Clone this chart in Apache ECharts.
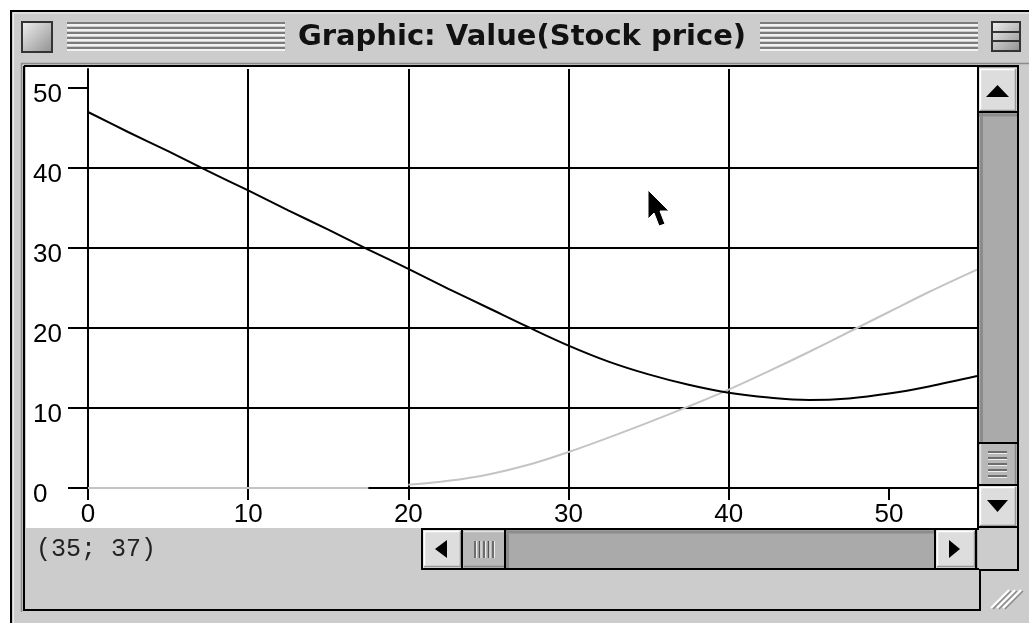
<!DOCTYPE html>
<html><head><meta charset="utf-8">
<script src="https://cdn.jsdelivr.net/npm/echarts@6/dist/echarts.min.js"></script>
<style>html,body{margin:0;padding:0;background:#fff}#c{width:1029px;height:623px}</style>
</head><body><div id="c"></div><script>
// ---- data ----
const titleText = 'Graphic: Value(Stock price)';
const statusText = '(35; 37)';
const xTicks = [0, 10, 20, 30, 40, 50];
const yTicks = [0, 10, 20, 30, 40, 50];
const stockPrice = [0, 2.5, 5, 7.5, 10, 12.5, 15, 17.5, 20, 22.5, 25, 27.5, 30, 32.5, 35, 37.5, 40, 42.5, 45, 47.5, 50, 52.5, 55.5];
const valueDark  = [47, 44.5, 42.1, 39.6, 37.2, 34.7, 32.3, 29.8, 27.4, 24.9, 22.5, 20.1, 17.8, 15.8, 14.2, 12.9, 11.9, 11.3, 11.0, 11.2, 11.8, 12.7, 14.0];
const grayPrice  = [0, 17.5, 18.75, 20, 22.5, 25, 27.5, 30, 32.5, 35, 37.5, 40, 42.5, 45, 47.5, 50, 52.5, 55.5];
const valueGray  = [0, 0, null, 0.4, 0.9, 1.7, 2.9, 4.5, 6.3, 8.2, 10.2, 12.3, 14.6, 17.0, 19.5, 22.0, 24.5, 27.3];

// ---- helpers for window chrome ----
const G = [];
function rect(x, y, w, h, fill, z, stroke, lw) {
  G.push({type: 'rect', z: z, silent: true, shape: {x: x, y: y, width: w, height: h},
    style: {fill: fill, stroke: stroke || null, lineWidth: lw || 0}});
}
function line(x1, y1, x2, y2, color, w, z) {
  G.push({type: 'line', z: z, silent: true, shape: {x1: x1, y1: y1, x2: x2, y2: y2},
    style: {stroke: color, lineWidth: w}});
}
function poly(points, fill, z, stroke) {
  G.push({type: 'polygon', z: z, silent: true, shape: {points: points},
    style: {fill: fill, stroke: stroke || null, lineWidth: stroke ? 1 : 0}});
}
function grad(c1, c2) {
  return new echarts.graphic.LinearGradient(0, 0, 1, 1, [{offset: 0, color: c1}, {offset: 1, color: c2}]);
}
const BG = -10, TOP = 60;

// window body
rect(10, 10, 1030, 620, '#cccccc', BG);
line(10, 11, 1029, 11, '#000', 2, BG + 1);
line(11, 10, 11, 623, '#000', 2, BG + 1);
line(13, 13, 1029, 13, '#eeeeee', 1, BG + 1);
line(13.5, 13, 13.5, 623, '#eeeeee', 1, BG + 1);
// title bar: close box
rect(22, 22, 30, 30, grad('#f2f2f2', '#8e8e8e'), BG + 2, '#333', 2);
// stripes
for (let i = 0; i < 6; i++) {
  const y = 23 + i * 5;
  line(67, y, 285, y, '#7c7c7c', 2, BG + 2);
  line(67, y + 2, 285, y + 2, '#ffffff', 1.5, BG + 2);
  line(760, y, 978, y, '#7c7c7c', 2, BG + 2);
  line(760, y + 2, 978, y + 2, '#ffffff', 1.5, BG + 2);
}
// zoom box
rect(992, 22, 28, 29, grad('#f2f2f2', '#8e8e8e'), BG + 2, '#333', 2);
line(992, 32, 1020, 32, '#333', 2, BG + 3);
line(992, 41, 1020, 41, '#333', 2, BG + 3);
// title
G.push({type: 'text', z: BG + 3, silent: true, style: {text: titleText, x: 522, y: 37,
  font: 'bold 29px "DejaVu Sans"', fill: '#111', align: 'center', verticalAlign: 'middle'}});
// content bevel + white plot area
line(21, 63.5, 1029, 63.5, '#8a8a8a', 1.5, BG + 1);
line(21.5, 63, 21.5, 612, '#8a8a8a', 1.5, BG + 1);
rect(26, 67, 952, 461, '#ffffff', BG + 1);

// overlay: content frame
G.push({type: 'polyline', z: TOP + 5, silent: true,
  shape: {points: [[24, 66], [1018, 66], [1018, 570], [980, 570], [980, 610], [24, 610], [24, 66]]},
  style: {stroke: '#000', lineWidth: 2, fill: null}});

// vertical scrollbar
rect(978, 67, 40, 461, '#aaaaaa', TOP);
line(978, 67, 978, 528, '#000', 2, TOP + 2);
rect(979, 68, 38, 44, '#dddddd', TOP + 1);
line(980, 69.5, 1016, 69.5, '#ffffff', 1.5, TOP + 1);
line(980.5, 69, 980.5, 111, '#ffffff', 1.5, TOP + 1);
line(980, 110.5, 1016, 110.5, '#999999', 1.5, TOP + 1);
line(1015.5, 69, 1015.5, 111, '#999999', 1.5, TOP + 1);
line(979, 112, 1017, 112, '#000', 2, TOP + 2);
poly([[986, 97], [1009, 97], [997.5, 85]], '#000', TOP + 2);
line(981.5, 113, 981.5, 442, '#8c8c8c', 3, TOP + 1);
line(979, 115, 1017, 115, '#8c8c8c', 3, TOP + 1);
rect(979, 443, 38, 42, '#b8b8b8', TOP + 1);
line(980.5, 444, 980.5, 485, '#e0e0e0', 1.5, TOP + 1);
line(1015.5, 444, 1015.5, 485, '#888', 1.5, TOP + 1);
line(979, 443, 1017, 443, '#000', 2, TOP + 2);
line(979, 485, 1017, 485, '#000', 2, TOP + 2);
for (let i = 0; i < 5; i++) {
  const y = 452 + i * 6;
  line(988, y, 1007, y, '#555', 1.5, TOP + 2);
  line(988, y + 1.5, 1007, y + 1.5, '#eee', 1, TOP + 2);
}
rect(979, 486, 38, 41, '#dddddd', TOP + 1);
line(980, 487.5, 1016, 487.5, '#ffffff', 1.5, TOP + 1);
line(980.5, 487, 980.5, 526, '#ffffff', 1.5, TOP + 1);
line(1015.5, 487, 1015.5, 526, '#999999', 1.5, TOP + 1);
line(980, 525.5, 1016, 525.5, '#999999', 1.5, TOP + 1);
poly([[987, 500], [1008, 500], [997.5, 512]], '#000', TOP + 2);
line(978, 527, 1018, 527, '#000', 2, TOP + 2);

// horizontal scrollbar
rect(422, 528, 556, 41, '#aaaaaa', TOP);
line(421, 529, 979, 529, '#000', 2, TOP + 2);
line(421, 569, 979, 569, '#000', 2, TOP + 2);
line(422, 528, 422, 570, '#000', 2, TOP + 2);
rect(423, 530, 38, 38, '#dddddd', TOP + 1);
line(424, 531.5, 461, 531.5, '#fff', 1.5, TOP + 1);
line(424.5, 531, 424.5, 567, '#fff', 1.5, TOP + 1);
line(424, 566.5, 461, 566.5, '#999', 1.5, TOP + 1);
line(460.5, 531, 460.5, 567, '#999', 1.5, TOP + 1);
line(462, 529, 462, 569, '#000', 2, TOP + 2);
poly([[435, 549], [447, 540], [447, 558]], '#000', TOP + 2);
rect(463, 530, 42, 38, '#b8b8b8', TOP + 1);
line(464, 531.5, 504, 531.5, '#e0e0e0', 1.5, TOP + 1);
line(464, 566.5, 504, 566.5, '#888', 1.5, TOP + 1);
for (let i = 0; i < 5; i++) {
  const x = 475 + i * 4.5;
  line(x, 541, x, 558, '#555', 1.5, TOP + 2);
  line(x + 1.5, 541, x + 1.5, 558, '#eee', 1, TOP + 2);
}
line(505, 529, 505, 569, '#000', 2, TOP + 2);
line(506, 532, 935, 532, '#8c8c8c', 3, TOP + 1);
line(507.5, 530, 507.5, 568, '#8c8c8c', 3, TOP + 1);
line(935, 529, 935, 569, '#000', 2, TOP + 2);
rect(936, 530, 40, 38, '#dddddd', TOP + 1);
line(937, 531.5, 975, 531.5, '#fff', 1.5, TOP + 1);
line(937.5, 531, 937.5, 567, '#fff', 1.5, TOP + 1);
line(937, 566.5, 975, 566.5, '#999', 1.5, TOP + 1);
line(974.5, 531, 974.5, 567, '#999', 1.5, TOP + 1);
line(976, 529, 976, 569, '#000', 2, TOP + 2);
poly([[949, 540], [949, 558], [960, 549]], '#000', TOP + 2);
rect(979, 529, 38, 40, '#cccccc', TOP);

// grow box
for (let k = 0; k < 3; k++) {
  const o = k * 6;
  line(991 + o, 608, 1009 + o, 590, '#ffffff', 2, TOP);
  line(993 + o, 609, 1011 + o, 591, '#8a8a8a', 1.5, TOP);
}

// status text
G.push({type: 'text', z: TOP, silent: true, style: {text: statusText, x: 36, y: 549,
  font: '25px "Liberation Mono"', fill: '#222', align: 'left', verticalAlign: 'middle'}});

// mouse cursor
poly([[648, 190], [648, 219], [654, 213], [659, 226], [665, 224], [660, 211], [669, 211]], '#000', TOP + 3, '#fff');

// ---- chart ----
const axisFont = {color: '#000', fontFamily: 'Liberation Sans', fontSize: 26};
const chart = echarts.init(document.getElementById('c'), null, {renderer: 'canvas'});
chart.setOption({
  backgroundColor: '#ffffff',
  animation: false,
  grid: {left: 88, right: 52, top: 69, bottom: 135, containLabel: false, outerBoundsMode: 'none'},
  xAxis: {
    type: 'value', min: 0, max: 55.5, interval: 10,
    axisLine: {show: true, onZero: false, lineStyle: {color: '#000', width: 2}},
    axisTick: {show: true, inside: false, length: 12, customValues: xTicks, lineStyle: {color: '#000', width: 2}},
    axisLabel: Object.assign({margin: 14, customValues: xTicks,
      formatter: v => (xTicks.indexOf(v) >= 0 ? String(v) : '')}, axisFont),
    splitLine: {show: true, showMaxLine: false, lineStyle: {color: '#000', width: 2}}
  },
  yAxis: {
    type: 'value', min: 0, max: 52.375, interval: 10,
    axisLine: {show: true, onZero: false, lineStyle: {color: '#000', width: 2}},
    axisTick: {show: true, inside: false, length: 20, customValues: yTicks, lineStyle: {color: '#000', width: 2}},
    axisLabel: Object.assign({margin: 55, align: 'left', verticalAlign: 'top', lineHeight: 13, customValues: yTicks,
      formatter: v => (yTicks.indexOf(v) >= 0 ? String(v) : '')}, axisFont),
    splitLine: {show: true, showMaxLine: false, lineStyle: {color: '#000', width: 2}}
  },
  series: [
    {type: 'line', name: 'gray', data: grayPrice.map((x, i) => [x, valueGray[i]]),
     showSymbol: false, smooth: 0.35, connectNulls: false, z: 3,
     lineStyle: {color: '#c4c4c4', width: 2}},
    {type: 'line', name: 'value', data: stockPrice.map((x, i) => [x, valueDark[i]]),
     showSymbol: false, smooth: 0.35, z: 4,
     lineStyle: {color: '#000', width: 2}}
  ],
  graphic: {elements: G}
});
</script></body></html>
